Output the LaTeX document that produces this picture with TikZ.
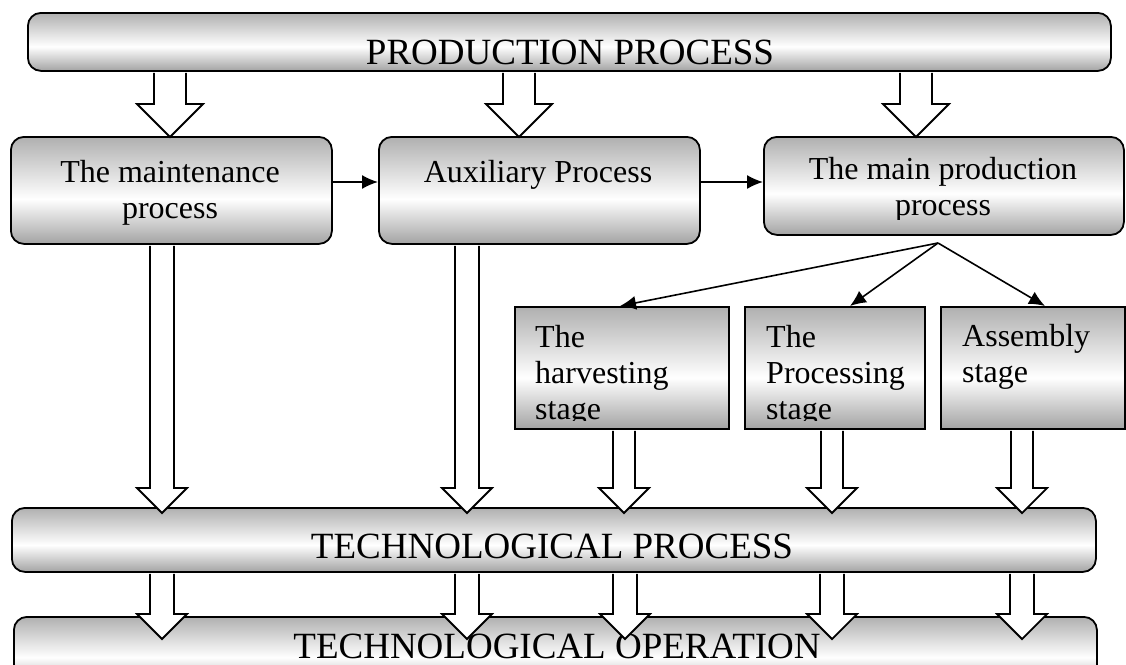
\documentclass[tikz,border=0pt]{standalone}
\usepackage{fontspec}
\setmainfont{Liberation Serif}
\usetikzlibrary{arrows.meta,calc}

% grey - white - grey fill of all boxes
\pgfdeclareverticalshading{chrome}{100bp}{color(0bp)=(gray!72); color(25bp)=(gray!72); color(46bp)=(white); color(75bp)=(gray!62); color(100bp)=(gray!62)}

\tikzset{
  roundbox/.style={draw, line width=1.8pt, rounded corners=13pt, shade, shading=chrome, inner sep=0pt, anchor=north west},
  stagebox/.style={draw, line width=1.8pt, shade, shading=chrome, inner sep=0pt, anchor=north west},
  bigtext/.style={font=\fontsize{37}{44}\selectfont, inner sep=0pt, anchor=base},
  boxtext/.style={font=\fontsize{32}{36}\selectfont, inner sep=0pt},
  hollow/.style={draw, fill=white, line width=1.8pt, line join=miter},
  link/.style={line width=1.6pt, -{Latex[length=16pt,width=14pt]}}
}

\begin{document}
\begin{tikzpicture}[x=1pt, y=-1pt]
    \clip (0,0) rectangle (1126,664);

    % x position, from node, to node, dip into target, head size, half shaft
    \def\hollowarrow#1#2#3#4#5#6{%
      \path (#2.south -| #1,0) coordinate (s) (#3.north -| #1,0) coordinate (t);
      \filldraw[hollow] ($(s)+(-#6,1)$) -- ($(t)+(-#6,#4-#5)$) -- ($(t)+(-#5,#4-#5)$) -- ($(t)+(0,#4)$)
        -- ($(t)+(#5,#4-#5)$) -- ($(t)+(#6,#4-#5)$) -- ($(s)+(#6,1)$);
    }

    % Bands and boxes
    \node[roundbox, minimum width=1083, minimum height=58] (prod) at (27,12) {};
    \node[roundbox, minimum width=321, minimum height=107] (maint) at (10,136) {};
    \node[roundbox, minimum width=321, minimum height=107] (aux) at (378,136) {};
    \node[roundbox, minimum width=360, minimum height=98] (mainprod) at (763,136) {};
    \node[stagebox, minimum width=214, minimum height=122] (harv) at (514,306) {};
    \node[stagebox, minimum width=180, minimum height=122] (proc) at (744,306) {};
    \node[stagebox, minimum width=184, minimum height=122] (assem) at (940,306) {};
    \node[roundbox, minimum width=1084, minimum height=64] (techproc) at (11,507) {};
    \node[roundbox, minimum width=1083, minimum height=70] (techop) at (13,616) {};

    % Labels (base = last line)
    \node[bigtext] (prodlabel) at (570,64) {PRODUCTION PROCESS};
    \node[boxtext, align=center, anchor=base] (maintlabel) at (170,218) {The maintenance\\process};
    \node[boxtext, anchor=base] (auxlabel) at (538,182) {Auxiliary Process};
    \begin{scope}
      \clip (763,136) rectangle (1123,219);
      \node[boxtext, align=center, anchor=base] (mainprodlabel) at (943,215) {The main production\\process};
    \end{scope}
    \begin{scope}
      \clip (514,306) rectangle (1124,420);
      \node[boxtext, align=left, anchor=base west] (harvlabel) at (535,419) {The\\harvesting\\stage};
      \node[boxtext, align=left, anchor=base west] (proclabel) at (766,419) {The\\Processing\\stage};
      \node[boxtext, align=left, anchor=base west] (assemlabel) at (962,382) {Assembly\\stage};
    \end{scope}
    \node[bigtext] (techproclabel) at (552,558) {TECHNOLOGICAL PROCESS};
    \node[bigtext] (techoplabel) at (557,658) {TECHNOLOGICAL OPERATION};

    % Thin arrows
    \draw[link] (maint.east |- 0,182) -- (aux.west |- 0,182);
    \draw[link] (aux.east |- 0,182) -- (mainprod.west |- 0,182);
    \coordinate (fork) at (938,243);
    \draw[link] (fork) -- (harv.north -| 620,0);
    \draw[link] (fork) -- (proc.north -| 850,0);
    \draw[link] (fork) -- (assem.north -| 1045,0);

    % Hollow arrows
    \hollowarrow{170}{prod}{maint}{1}{33}{16}
    \hollowarrow{519}{prod}{aux}{1}{33}{16}
    \hollowarrow{916}{prod}{mainprod}{1}{33}{16}
    \hollowarrow{162}{maint}{techproc}{6}{25}{12}
    \hollowarrow{467}{aux}{techproc}{6}{25}{12}
    \hollowarrow{624}{harv}{techproc}{6}{25}{11}
    \hollowarrow{832}{proc}{techproc}{6}{25}{11}
    \hollowarrow{1022}{assem}{techproc}{6}{25}{11}
    \hollowarrow{162}{techproc}{techop}{23}{25}{12}
    \hollowarrow{467}{techproc}{techop}{23}{25}{12}
    \hollowarrow{625}{techproc}{techop}{23}{25}{12}
    \hollowarrow{832}{techproc}{techop}{23}{25}{12}
    \hollowarrow{1022}{techproc}{techop}{23}{25}{12}
\end{tikzpicture}
\end{document}
